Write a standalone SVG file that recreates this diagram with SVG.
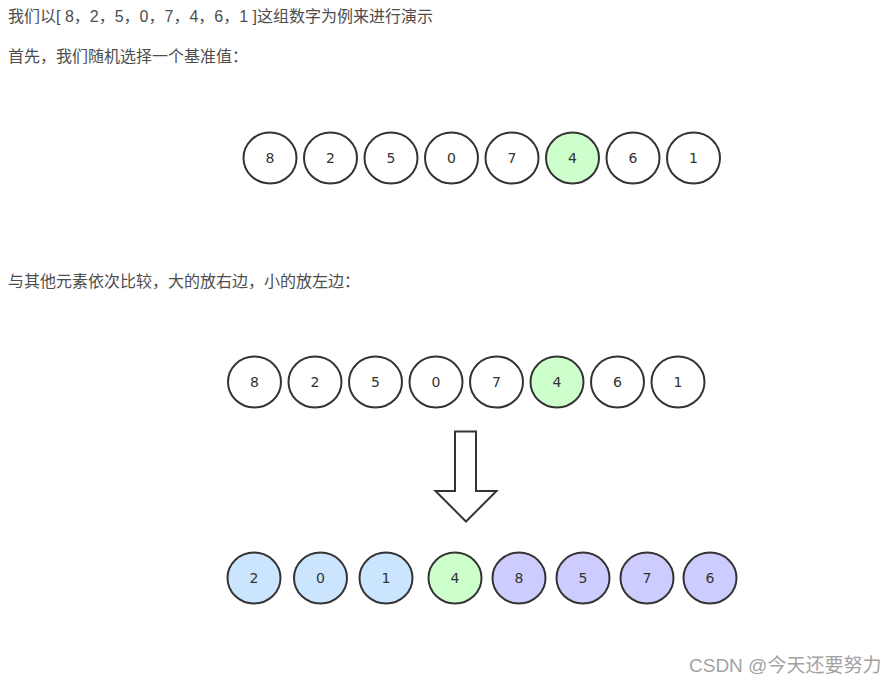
<svg xmlns="http://www.w3.org/2000/svg" width="894" height="685" viewBox="0 0 894 685">
<style>
.bg{fill:#ffffff}
.t{font-family:"Liberation Sans","Noto Sans CJK SC",sans-serif;font-size:16px;fill:#4d4d4d}
.n ellipse{stroke:#333333;stroke-width:2}
.n text{font-family:"DejaVu Sans",sans-serif;font-size:14px;fill:#333333;text-anchor:middle;dominant-baseline:central}
.w{fill:#ffffff}
.g{fill:#ccffcc}
.b{fill:#cce5ff}
.p{fill:#ccccff}
.arrow{fill:#ffffff;stroke:#333333;stroke-width:2;stroke-linejoin:miter}
.wm{font-family:"Liberation Sans","Noto Sans CJK SC",sans-serif;font-size:19px;fill:#a3a3a3}
</style>
<rect class="bg" x="0" y="0" width="894" height="685"/>
<text class="t" x="8" y="22">我们以[ 8，2，5，0，7，4，6，1 ]这组数字为例来进行演示</text>
<text class="t" x="8" y="62">首先，我们随机选择一个基准值：</text>
<text class="t" x="8" y="287">与其他元素依次比较，大的放右边，小的放左边：</text>

<g id="row1">
<g id="r1n1" class="n"><ellipse class="w" cx="270" cy="158" rx="26.5" ry="25.5"/><text x="270" y="158">8</text></g>
<g id="r1n2" class="n"><ellipse class="w" cx="330.5" cy="158" rx="26.5" ry="25.5"/><text x="330.5" y="158">2</text></g>
<g id="r1n3" class="n"><ellipse class="w" cx="391" cy="158" rx="26.5" ry="25.5"/><text x="391" y="158">5</text></g>
<g id="r1n4" class="n"><ellipse class="w" cx="451.5" cy="158" rx="26.5" ry="25.5"/><text x="451.5" y="158">0</text></g>
<g id="r1n5" class="n"><ellipse class="w" cx="512" cy="158" rx="26.5" ry="25.5"/><text x="512" y="158">7</text></g>
<g id="r1n6" class="n"><ellipse class="g" cx="572.5" cy="158" rx="26.5" ry="25.5"/><text x="572.5" y="158">4</text></g>
<g id="r1n7" class="n"><ellipse class="w" cx="633" cy="158" rx="26.5" ry="25.5"/><text x="633" y="158">6</text></g>
<g id="r1n8" class="n"><ellipse class="w" cx="693.5" cy="158" rx="26.5" ry="25.5"/><text x="693.5" y="158">1</text></g>
</g>

<g id="row2">
<g id="r2n1" class="n"><ellipse class="w" cx="254.5" cy="382" rx="26.5" ry="25.5"/><text x="254.5" y="382">8</text></g>
<g id="r2n2" class="n"><ellipse class="w" cx="315" cy="382" rx="26.5" ry="25.5"/><text x="315" y="382">2</text></g>
<g id="r2n3" class="n"><ellipse class="w" cx="375.5" cy="382" rx="26.5" ry="25.5"/><text x="375.5" y="382">5</text></g>
<g id="r2n4" class="n"><ellipse class="w" cx="436" cy="382" rx="26.5" ry="25.5"/><text x="436" y="382">0</text></g>
<g id="r2n5" class="n"><ellipse class="w" cx="496.5" cy="382" rx="26.5" ry="25.5"/><text x="496.5" y="382">7</text></g>
<g id="r2n6" class="n"><ellipse class="g" cx="557" cy="382" rx="26.5" ry="25.5"/><text x="557" y="382">4</text></g>
<g id="r2n7" class="n"><ellipse class="w" cx="617.5" cy="382" rx="26.5" ry="25.5"/><text x="617.5" y="382">6</text></g>
<g id="r2n8" class="n"><ellipse class="w" cx="678" cy="382" rx="26.5" ry="25.5"/><text x="678" y="382">1</text></g>
</g>

<g id="connectors">
<polygon class="arrow" points="455,431.5 476,431.5 476,491 496.5,491 466,521.5 435.5,491 455,491"/>
</g>

<g id="row3">
<g id="r3n1" class="n"><ellipse class="b" cx="254" cy="578" rx="26.5" ry="25.5"/><text x="254" y="578">2</text></g>
<g id="r3n2" class="n"><ellipse class="b" cx="320.5" cy="578" rx="26.5" ry="25.5"/><text x="320.5" y="578">0</text></g>
<g id="r3n3" class="n"><ellipse class="b" cx="386" cy="578" rx="26.5" ry="25.5"/><text x="386" y="578">1</text></g>
<g id="r3n4" class="n"><ellipse class="g" cx="455" cy="578" rx="26.5" ry="25.5"/><text x="455" y="578">4</text></g>
<g id="r3n5" class="n"><ellipse class="p" cx="519" cy="578" rx="26.5" ry="25.5"/><text x="519" y="578">8</text></g>
<g id="r3n6" class="n"><ellipse class="p" cx="583" cy="578" rx="26.5" ry="25.5"/><text x="583" y="578">5</text></g>
<g id="r3n7" class="n"><ellipse class="p" cx="647" cy="578" rx="26.5" ry="25.5"/><text x="647" y="578">7</text></g>
<g id="r3n8" class="n"><ellipse class="p" cx="710" cy="578" rx="26.5" ry="25.5"/><text x="710" y="578">6</text></g>
</g>

<text class="wm" x="689" y="672">CSDN @今天还要努力</text>
</svg>
